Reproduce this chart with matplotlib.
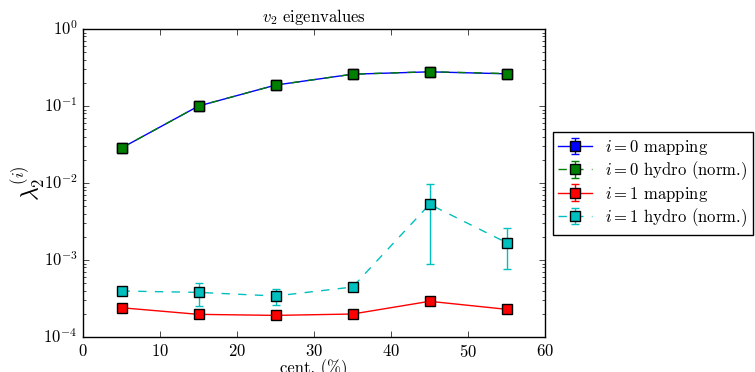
import matplotlib
matplotlib.use("Agg")
import matplotlib.pyplot as plt
import numpy as np

plt.style.use('classic')
plt.rcParams['font.family'] = 'serif'
plt.rcParams['font.serif'] = ['cmr10', 'DejaVu Serif']
plt.rcParams['mathtext.fontset'] = 'cm'
plt.rcParams['axes.formatter.use_mathtext'] = True
plt.rcParams['figure.facecolor'] = 'white'
plt.rcParams['savefig.facecolor'] = 'white'

cent = [5, 15, 25, 35, 45, 55]
map0 = [0.0285, 0.100, 0.187, 0.259, 0.278, 0.262]
map0_err = [0.0005, 0.001, 0.002, 0.003, 0.003, 0.003]
hyd0 = [0.0285, 0.100, 0.187, 0.259, 0.279, 0.264]
hyd0_err = [0.0005, 0.001, 0.002, 0.003, 0.003, 0.003]
map1 = [2.40e-4, 1.97e-4, 1.91e-4, 1.99e-4, 2.91e-4, 2.29e-4]
map1_err = [3e-6, 3e-6, 3e-6, 3e-6, 4e-6, 3e-6]
hyd1 = [3.96e-4, 3.80e-4, 3.41e-4, 4.46e-4, 5.29e-3, 1.68e-3]
hyd1_err = [1.5e-5, 1.3e-4, 7.8e-5, 2.5e-5, 4.4e-3, 9.2e-4]

labels = [r'$i=0$ mapping', r'$i=0$ hydro (norm.)',
          r'$i=1$ mapping', r'$i=1$ hydro (norm.)']

fig = plt.figure(figsize=(7.55, 3.72), dpi=100)
ax = fig.add_axes([0.110, 0.094, 0.612, 0.828])

kw = dict(marker='s', markersize=7, markeredgecolor='k', markeredgewidth=1.0,
          capsize=3, elinewidth=1.0, capthick=1.0)
ax.errorbar(cent, map0, yerr=map0_err, color='b', ls='-', label=labels[0], **kw)
ax.errorbar(cent, hyd0, yerr=hyd0_err, color='g', ls='--', label=labels[1], **kw)
ax.errorbar(cent, map1, yerr=map1_err, color='r', ls='-', label=labels[2], **kw)
ax.errorbar(cent, hyd1, yerr=hyd1_err, color='c', ls='--', label=labels[3], **kw)

ax.set_yscale('log')
ax.set_ylim(1e-4, 1)
ax.set_xlim(0, 60)
ax.set_xticks([0, 10, 20, 30, 40, 50, 60])
ax.set_title(r'$v_2$ eigenvalues', fontsize=12)
ax.set_xlabel('cent. (%)', fontsize=12, labelpad=0)
ax.set_ylabel(r'$\lambda_2^{(i)}$', fontsize=17, labelpad=-3)
ax.tick_params(labelsize=12)

fig.legend(loc='upper left', bbox_to_anchor=(0.732, 0.645), numpoints=1,
           fontsize=12, frameon=True, fancybox=False, borderaxespad=0.0,
           handlelength=2.0, labelspacing=0.15, borderpad=0.35)

fig.savefig('out.png', dpi=100)
